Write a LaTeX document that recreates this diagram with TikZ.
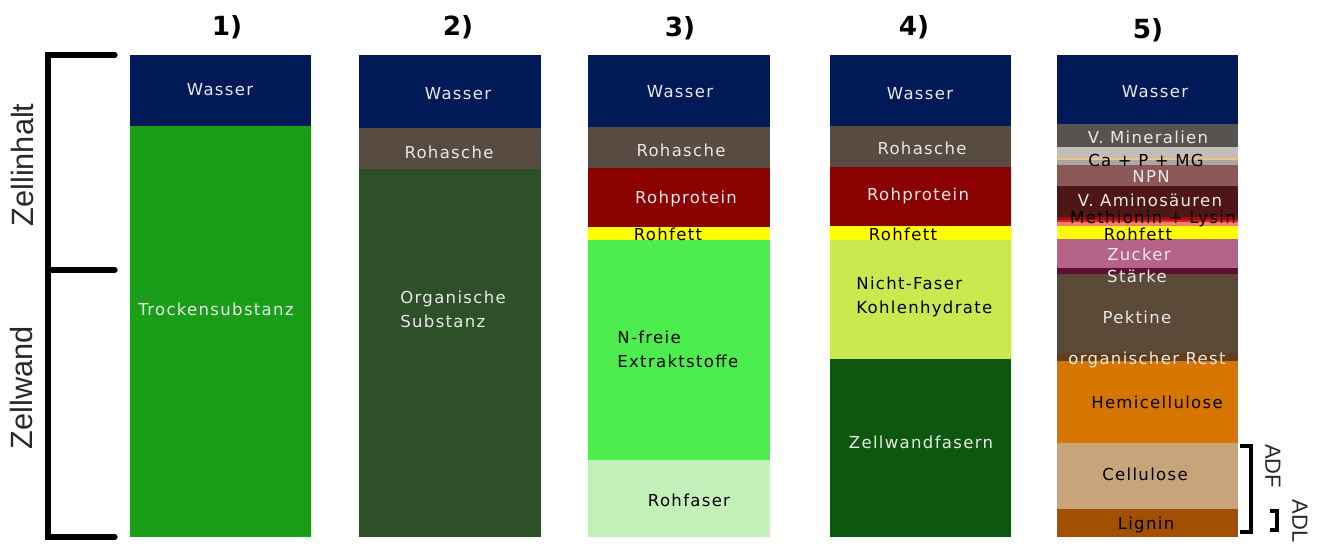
\documentclass[tikz,border=0pt]{standalone}
\usepackage{fontspec}
\setmainfont{DejaVu Sans}
\newfontfamily\lblfont[LetterSpace=8]{DejaVu Sans}
\newfontfamily\sidefont{Liberation Sans}
\usetikzlibrary{positioning}
\definecolor{wasser}{RGB}{0, 26, 87}
\definecolor{trocken}{RGB}{26, 158, 26}
\definecolor{asche}{RGB}{87, 75, 66}
\definecolor{organik}{RGB}{45, 80, 40}
\definecolor{protein}{RGB}{139, 0, 0}
\definecolor{fett}{RGB}{255, 255, 0}
\definecolor{nfrei}{RGB}{77, 237, 77}
\definecolor{faser}{RGB}{194, 240, 184}
\definecolor{nichtfaser}{RGB}{203, 233, 79}
\definecolor{wandfaser}{RGB}{14, 87, 14}
\definecolor{mineral}{RGB}{87, 83, 80}
\definecolor{capmg}{RGB}{195, 189, 183}
\definecolor{capmgline}{RGB}{242, 194, 142}
\definecolor{capmgdark}{RGB}{172, 165, 160}
\definecolor{npn}{RGB}{139, 88, 88}
\definecolor{amino}{RGB}{78, 22, 22}
\definecolor{methA}{RGB}{160, 16, 16}
\definecolor{methB}{RGB}{224, 32, 32}
\definecolor{methC}{RGB}{240, 128, 112}
\definecolor{zucker}{RGB}{181, 100, 136}
\definecolor{staerke}{RGB}{92, 16, 56}
\definecolor{pektin}{RGB}{92, 74, 56}
\definecolor{orgrest}{RGB}{96, 62, 32}
\definecolor{hemi}{RGB}{214, 118, 0}
\definecolor{cellu}{RGB}{200, 164, 122}
\definecolor{lignin}{RGB}{160, 80, 0}
\definecolor{lighttext}{RGB}{232, 232, 232}
\definecolor{sidetext}{RGB}{40, 40, 40}

\begin{document}
\begin{tikzpicture}[
    x=0.02cm, y=-0.02cm,
    lbl/.style={font=\lblfont\fontsize{9.4}{13.6}\selectfont, text=lighttext, inner sep=0pt},
    dlbl/.style={lbl, text=black},
    coltitle/.style={font=\bfseries\fontsize{15}{17}\selectfont, inner sep=0pt},
    sidelbl/.style={font=\sidefont\fontsize{17.5}{19}\selectfont, text=sidetext, inner sep=0pt},
    smallside/.style={font=\sidefont\fontsize{12.5}{14}\selectfont, text=sidetext, inner sep=0pt},
    brace/.style={black, line width=3pt, line cap=round},
    smallbrace/.style={black, line width=1.8pt}
]
    \useasboundingbox (0,0) rectangle (1323,551);

    % ---------------- column titles ----------------
    \node[coltitle] (t1) at (227,27) {1)};
    \node[coltitle] (t2) at (458,27) {2)};
    \node[coltitle] (t3) at (680,28) {3)};
    \node[coltitle] (t4) at (914,27) {4)};
    \node[coltitle] (t5) at (1148,30) {5)};

    % ---------------- left bracket ----------------
    \draw[brace] (115,55) -- (48,55) -- (48,537) -- (115,537);
    \draw[brace] (48,270) -- (115,270);
    \node[sidelbl, rotate=90] (zi) at (23,165) {Zellinhalt};
    \node[sidelbl, rotate=90] (zw) at (22,388) {Zellwand};

    % ---------------- column 1 ----------------
    \fill[wasser] (130,55) rectangle (311,126);
    \fill[trocken] (130,126) rectangle (311,537);
    \node[lbl] (w1) at (220,90) {Wasser};
    \node[lbl] (ts) at (216,309) {Trockensubstanz};

    % ---------------- column 2 ----------------
    \fill[wasser] (359,55) rectangle (541,128);
    \fill[asche] (359,128) rectangle (541,169);
    \fill[organik] (359,169) rectangle (541,537);
    \node[lbl] (w2) at (458,94) {Wasser};
    \node[lbl] (ra2) at (449,152) {Rohasche};
    \node[lbl, anchor=west, align=left] (os) at (400,309) {Organische\\Substanz};

    % ---------------- column 3 ----------------
    \fill[wasser] (588,55) rectangle (770,127);
    \fill[asche] (588,127) rectangle (770,168);
    \fill[protein] (588,168) rectangle (770,227);
    \fill[fett] (588,227) rectangle (770,240);
    \fill[nfrei] (588,240) rectangle (770,460);
    \fill[faser] (588,460) rectangle (770,537);
    \node[lbl] (w3) at (680,92) {Wasser};
    \node[lbl] (ra3) at (681,150) {Rohasche};
    \node[lbl] (rp3) at (686,199) {Rohprotein};
    \node[dlbl] (rf3) at (668,234) {Rohfett};
    \node[dlbl, anchor=west, align=left] (nf) at (617,349) {N-freie\\Extraktstoffe};
    \node[dlbl] (rfa) at (689,500) {Rohfaser};

    % ---------------- column 4 ----------------
    \fill[wasser] (830,55) rectangle (1011,126);
    \fill[asche] (830,126) rectangle (1011,167);
    \fill[protein] (830,167) rectangle (1011,226);
    \fill[fett] (830,226) rectangle (1011,240);
    \fill[nichtfaser] (830,240) rectangle (1011,359);
    \fill[wandfaser] (830,359) rectangle (1011,537);
    \node[lbl] (w4) at (920,94) {Wasser};
    \node[lbl] (ra4) at (922,148) {Rohasche};
    \node[lbl] (rp4) at (918,196) {Rohprotein};
    \node[dlbl] (rf4) at (903,234) {Rohfett};
    \node[dlbl, anchor=west, align=left] (nkh) at (856,297) {Nicht-Faser\\Kohlenhydrate};
    \node[lbl] (zwf) at (921,442) {Zellwandfasern};

    % ---------------- column 5 ----------------
    \fill[wasser] (1057,55) rectangle (1238,124);
    \fill[mineral] (1057,124) rectangle (1238,147);
    \fill[capmg] (1057,147) rectangle (1238,158);
    \fill[capmgline] (1057,158) rectangle (1238,160);
    \fill[capmgdark] (1057,160) rectangle (1238,165);
    \fill[npn] (1057,165) rectangle (1238,186);
    \fill[amino] (1057,186) rectangle (1238,217);
    \fill[methA] (1057,217) rectangle (1238,220);
    \fill[methB] (1057,220) rectangle (1238,222);
    \fill[methC] (1057,222) rectangle (1238,226);
    \fill[fett] (1057,226) rectangle (1238,239);
    \fill[zucker] (1057,239) rectangle (1238,268);
    \fill[staerke] (1057,268) rectangle (1238,274);
    \fill[pektin] (1057,274) rectangle (1238,353);
    \fill[orgrest] (1057,353) rectangle (1238,361);
    \fill[hemi] (1057,361) rectangle (1238,443);
    \fill[cellu] (1057,443) rectangle (1238,509);
    \fill[lignin] (1057,509) rectangle (1238,537);
    \node[lbl] (w5) at (1155,92) {Wasser};
    \node[lbl] (vm) at (1148,137) {V. Mineralien};
    \node[dlbl] (ca) at (1146,160) {Ca + P + MG};
    \node[lbl] (npn) at (1151,176) {NPN};
    \node[lbl] (va) at (1150,200) {V. Aminosäuren};
    \node[dlbl] (ml) at (1153,219) {Methionin + Lysin};
    \node[dlbl] (rf5) at (1138,234) {Rohfett};
    \node[lbl] (zu) at (1139,254) {Zucker};
    \node[lbl] (st) at (1137,276) {Stärke};
    \node[lbl] (pk) at (1137,317) {Pektine};
    \node[lbl] (or) at (1147,360) {organischer Rest};
    \node[dlbl] (hc) at (1157,402) {Hemicellulose};
    \node[dlbl] (cl) at (1145,474) {Cellulose};
    \node[dlbl] (lg) at (1146,525) {Lignin};

    % ---------------- ADF / ADL brackets ----------------
    \draw[smallbrace] (1240,446) -- (1251,446) -- (1251,532) -- (1240,532);
    \draw[smallbrace, line width=2.6pt] (1270,511) -- (1277,511) -- (1277,530) -- (1270,530);
    \node[smallside, rotate=-90] (adf) at (1273,466) {ADF};
    \node[smallside, rotate=-90] (adl) at (1300,521) {ADL};
\end{tikzpicture}
\end{document}
